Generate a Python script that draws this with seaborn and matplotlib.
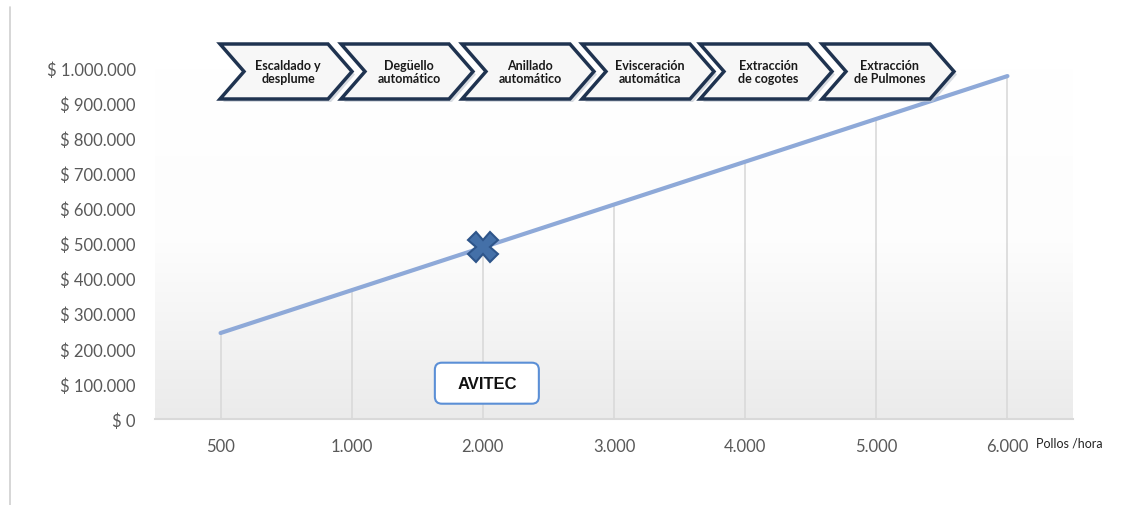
import numpy as np
import pandas as pd
import matplotlib
matplotlib.use("Agg")
import matplotlib.pyplot as plt
import seaborn as sns
from matplotlib.patches import Polygon, FancyBboxPatch
from matplotlib.transforms import IdentityTransform
from matplotlib.ticker import FuncFormatter

# ---- data ----
categories = ["500", "1.000", "2.000", "3.000", "4.000", "5.000", "6.000"]
costs = [245000, 367000, 489000, 611000, 733000, 855000, 977000]
marker_category = "2.000"
marker_value = 489000
stages = ["Escaldado y\ndesplume", "Degüello\nautomático", "Anillado\nautomático",
          "Evisceración\nautomática", "Extracción\nde cogotes", "Extracción\nde Pulmones"]
y_ticks = [0, 100000, 200000, 300000, 400000, 500000, 600000, 700000, 800000, 900000, 1000000]
x_unit_label = "Pollos /hora"
box_label = "AVITEC"

sns.set_theme(style="white")
plt.rcParams["font.family"] = ["Lato", "DejaVu Sans"]

W, H = 1124, 506
fig = plt.figure(figsize=(W / 100, H / 100), dpi=100)
ax = fig.add_axes([155 / W, 1 - 420 / H, (1073 - 155) / W, (420 - 69) / H])

df = pd.DataFrame({"Pollos": categories, "Costo": costs})

# gradient background
grad = np.linspace(0, 1, 256).reshape(-1, 1)
cmap = matplotlib.colors.LinearSegmentedColormap.from_list("g", ["#ffffff", "#fdfdfd", "#ebebeb"])
ax.imshow(grad, extent=[0, 1, 0, 1], transform=ax.transAxes, aspect="auto",
          cmap=cmap, zorder=0, origin="upper")

pos = np.arange(len(categories))
ax.vlines(pos, 0, costs, colors="#d9d9d9", linewidth=1.2, zorder=1)

sns.pointplot(data=df, x="Pollos", y="Costo", order=categories, ax=ax,
              color="#8EA9D8", markers="", linestyles="-", linewidth=3, zorder=3)
ax.set_xlim(-0.5, len(categories) - 0.5)
ax.set_ylim(0, 1000000)

mi = categories.index(marker_category)
ax.plot([mi], [marker_value], marker="X", markersize=21, color="#4470A8",
        markeredgecolor="#2E558A", markeredgewidth=1.5, zorder=5, linestyle="none")

for s in ["top", "right", "left"]:
    ax.spines[s].set_visible(False)
ax.spines["bottom"].set_color("#d9d9d9")
ax.spines["bottom"].set_linewidth(1.5)
ax.set_xlabel("")
ax.set_ylabel("")
ax.set_yticks(y_ticks)
ax.yaxis.set_major_formatter(FuncFormatter(lambda v, p: "$ " + f"{int(v):,}".replace(",", ".")))
ax.tick_params(axis="y", length=0, pad=14, labelsize=12, labelcolor="#595959")
ax.tick_params(axis="x", length=0, pad=14, labelsize=12, labelcolor="#595959")
ax.grid(False)

ax.text((1036 - 155) / 918, -0.068, x_unit_label, transform=ax.transAxes,
        ha="left", va="center", fontsize=9, color="#222222")

fig.canvas.draw()

# AVITEC box
cx, cy = ax.transData.transform((mi, 102000))
cx += 4
bw, bh = 104, 41
box = FancyBboxPatch((cx - bw / 2, cy - bh / 2), bw, bh,
                     boxstyle="round,pad=0,rounding_size=7",
                     transform=IdentityTransform(), facecolor="white",
                     edgecolor="#5B8FD6", linewidth=1.5, zorder=6)
fig.add_artist(box)
fig.text(cx / W, cy / H, box_label, ha="center", va="center", fontsize=12,
         fontweight="bold", family=["Liberation Sans", "DejaVu Sans"], color="#111111", zorder=7)

# left border line
fig.add_artist(plt.Line2D([10, 10], [0, H - 8], transform=IdentityTransform(),
                          color="#d0d0d0", linewidth=1.2))

# chevrons
starts = [220, 341, 462, 582, 700, 822]
cw, notch = 132, 24
ytop, ybot = H - 45, H - 100
ymid = (ytop + ybot) / 2
for st, lab in zip(starts, stages):
    pts = [(st, ytop), (st + cw - notch, ytop), (st + cw, ymid),
           (st + cw - notch, ybot), (st, ybot), (st + notch, ymid)]
    shadow = Polygon([(x + 3, y - 3) for x, y in pts], closed=True, transform=IdentityTransform(),
                     facecolor="#bfc6d0", edgecolor="none", zorder=8, alpha=0.6)
    fig.add_artist(shadow)
    poly = Polygon(pts, closed=True, transform=IdentityTransform(),
                   facecolor="#f7f7f7", edgecolor="#1F3350", linewidth=2.5, zorder=9)
    fig.add_artist(poly)
    tx = st + notch / 2 + (cw - notch) / 2 + 2
    fig.text(tx / W, ymid / H, lab, ha="center", va="center", fontsize=9,
             fontweight="bold", color="#1a1a1a", linespacing=1.15, zorder=10)

fig.savefig("out.png", dpi=100)
